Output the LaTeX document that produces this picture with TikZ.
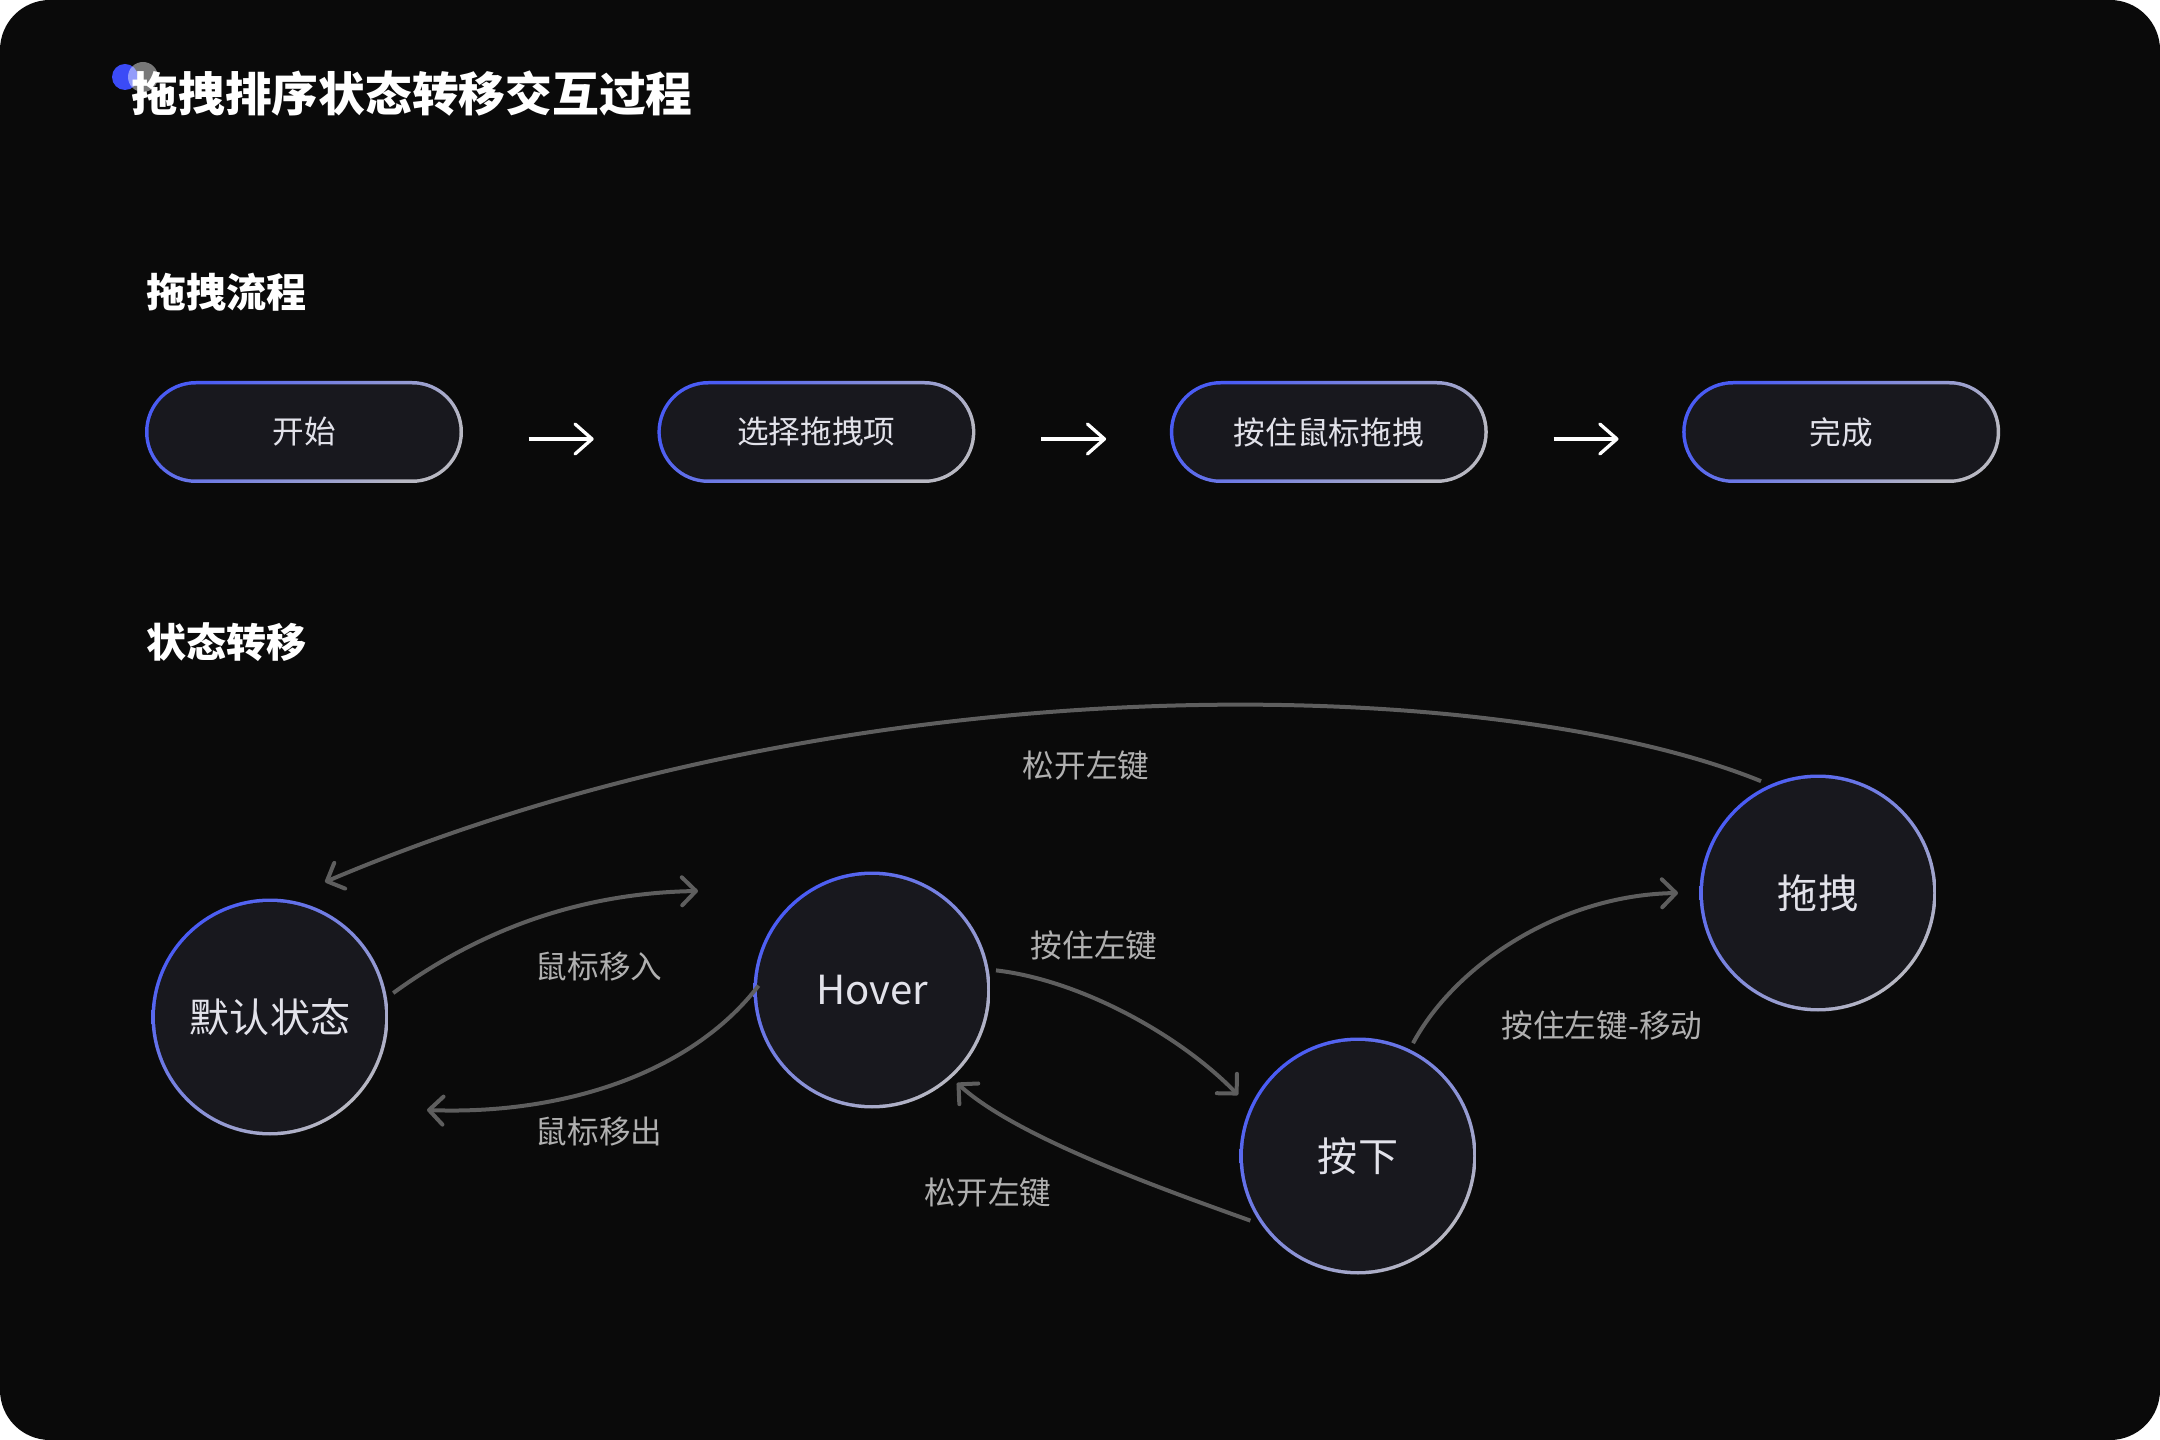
\documentclass[tikz,border=0pt]{standalone}
\usepackage{fontspec}
\setmainfont{Noto Sans CJK SC}
\usetikzlibrary{arrows.meta,positioning}

\definecolor{bg}{HTML}{0A0A0A}
\definecolor{nodefill}{HTML}{18181E}
\definecolor{ringblue}{HTML}{4A5CF5}
\definecolor{ringgray}{HTML}{B8B8C2}
\definecolor{edgegray}{HTML}{5E5E5E}
\definecolor{labelgray}{HTML}{B0B0B0}
\definecolor{nodetext}{HTML}{E2E2EA}
\definecolor{dotblue}{HTML}{3B4BF7}

\begin{document}
\begin{tikzpicture}[x=0.1mm, y=-0.1mm,
      pill_node/.style={
         rectangle,
         rounded corners=5.1mm,
         minimum width=31.8mm,
         minimum height=10.2mm,
         inner sep=0pt,
         text=nodetext,
         font=\fontsize{9}{11}\selectfont,
         path picture={
           \shade[top color=ringblue, bottom color=ringgray, shading angle=45]
             (path picture bounding box.south west) rectangle (path picture bounding box.north east);
           \fill[nodefill, rounded corners=4.75mm]
             ([shift={(0.35mm,0.35mm)}]path picture bounding box.south west) rectangle
             ([shift={(-0.35mm,-0.35mm)}]path picture bounding box.north east);
         }},
      state_node/.style={
         circle,
         minimum size=23.7mm,
         inner sep=0pt,
         outer sep=0.7mm,
         text=nodetext,
         font=\fontsize{11.4}{13}\selectfont,
         path picture={
           \shade[top color=ringblue, bottom color=ringgray, shading angle=45]
             (path picture bounding box.south west) rectangle (path picture bounding box.north east);
           \fill[nodefill] (path picture bounding box.center) circle (11.5mm);
         }},
      section_title/.style={
         anchor=west,
         inner sep=0pt,
         text=white,
         font=\bfseries\fontsize{11.4}{13}\selectfont},
      edge_label/.style={
         inner sep=0pt,
         text=labelgray,
         font=\fontsize{9}{11}\selectfont},
      edge_gray/.style={
         draw=edgegray,
         line width=0.4mm,
         -{Straight Barb[length=1.4mm,width=2.8mm,round]}},
      arrow_white/.style={
         draw=white,
         line width=0.33mm,
         -{Straight Barb[length=1.7mm,width=3mm,round]}},
]
      %background
      \useasboundingbox (0,0) rectangle (2160,1440);
      \fill[white] (0,0) rectangle (2160,1440);
      \fill[bg, rounded corners=5mm] (0,0) rectangle (2160,1440);

      %title
      \fill[dotblue] (125,77) circle (1.3mm);
      \fill[white, opacity=0.45] (143,77) circle (1.5mm);
      \node[section_title, font=\bfseries\fontsize{13.3}{15}\selectfont] (title) at (131,94) {拖拽排序状态转移交互过程};

      %flow
      \node[section_title] (flowhead) at (146,292) {拖拽流程};

      \node[pill_node] (start) at (304,432) {开始};
      \node[pill_node,right=19.3mm of start] (pick) {选择拖拽项};
      \node[pill_node,right=19.3mm of pick] (hold) {按住鼠标拖拽};
      \node[pill_node,right=19.3mm of hold] (done) {完成};

    \foreach \i/\j in {start/pick, pick/hold, hold/done}
      \draw [arrow_white] ([shift={(6.5mm,-0.7mm)}]\i.east) -- ([shift={(-6.3mm,-0.7mm)}]\j.west);

      %states
      \node[section_title] (statehead) at (146,642) {状态转移};

      \node[state_node] (idle) at (270,1017) {默认状态};
      \node[state_node] (hover) at (872,990) {Hover};
      \node[state_node] (press) at (1358,1156) {按下};
      \node[state_node] (drag) at (1818,893) {拖拽};

      \coordinate (idle_in) at (325,882);
      \coordinate (hover_in) at (698,891);
      \coordinate (idle_back) at (427,1110);
      \coordinate (press_in) at (1238,1095);
      \coordinate (hover_back) at (957,1083);
      \coordinate (drag_in) at (1678,893);

      \draw [edge_gray] (drag.117) .. controls (1500,675) and (860,655) .. (idle_in);
      \draw [edge_gray] (idle.11) .. controls (480,930) and (580,893) .. (hover_in);
      \draw [edge_gray] ([xshift=1.2mm]hover.178) .. controls (690,1075) and (560,1115) .. (idle_back);
      \draw [edge_gray] (hover.9) .. controls (1080,980) and (1180,1035) .. (press_in);
      \draw [edge_gray] (press.211) .. controls (1168,1191) and (1017,1138) .. (hover_back);
      \draw [edge_gray] (press.64) .. controls (1455,965) and (1560,895) .. (drag_in);

      \node[edge_label] (release_top) at (1086,766) {松开左键};
      \node[edge_label] (enter) at (599,967) {鼠标移入};
      \node[edge_label] (leave) at (599,1132) {鼠标移出};
      \node[edge_label] (hold_key) at (1094,945) {按住左键};
      \node[edge_label] (release) at (988,1193) {松开左键};
      \node[edge_label] (hold_move) at (1602,1025) {按住左键-移动};

\end{tikzpicture}
\end{document}
